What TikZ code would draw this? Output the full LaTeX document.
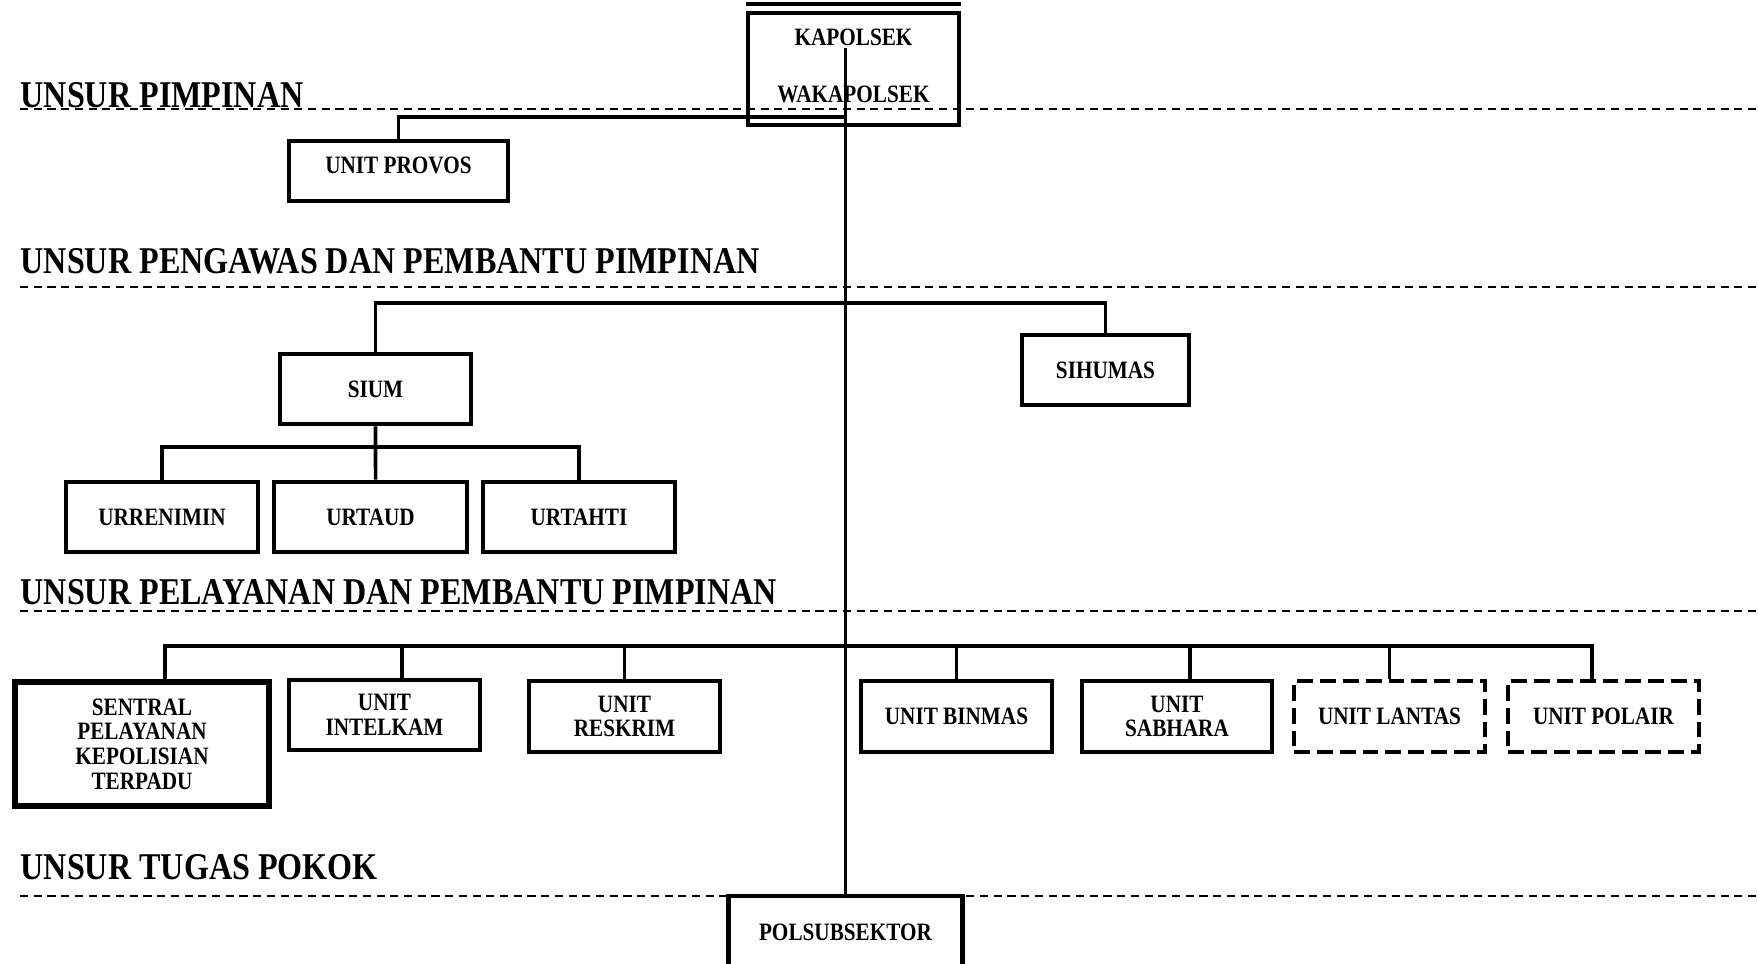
\documentclass[tikz,border=0pt]{standalone}
\usepackage{fontspec}
\setmainfont{Liberation Serif}
\newfontfamily\orgfont{Liberation Serif}[FakeStretch=0.85]

\begin{document}
\begin{tikzpicture}[x=0.01cm,y=-0.01cm,
  unit/.style={draw,line width=1.3pt,inner sep=0pt,align=center,
    font=\orgfont\bfseries\fontsize{7.1}{7}\selectfont},
  dunit/.style={unit,dash pattern=on 4.5pt off 2pt},
  level/.style={line width=0.45pt,dash pattern=on 2.3pt off 1.6pt},
  head/.style={anchor=base west,inner sep=0pt,
    font=\orgfont\bfseries\fontsize{10.75}{12}\selectfont},
  link/.style={line width=1pt}]
  \useasboundingbox (0,0) rectangle (1758,964);

  % levels
  \node[head] (pimpinan) at (20,107.6) {UNSUR PIMPINAN};
  \node[head] (pengawas) at (20,274) {UNSUR PENGAWAS DAN PEMBANTU PIMPINAN};
  \node[head] (pelayanan) at (20,604) {UNSUR PELAYANAN DAN PEMBANTU PIMPINAN};
  \node[head] (tugas) at (20,879) {UNSUR TUGAS POKOK};
  \draw[level] (20,109)--(1758,109);
  \draw[level] (20,287)--(1758,287);
  \draw[level] (20,611)--(1758,611);
  \draw[level] (20,896)--(1758,896);

  % units
  \node[unit,text depth=0.06cm,minimum width=2.11cm,minimum height=1.12cm] (kapolsek) at (853.5,69) {KAPOLSEK\\[9.2pt]WAKAPOLSEK};
  \draw[line width=1.2pt] ([yshift=0.065cm]kapolsek.north west) -- ([yshift=0.065cm]kapolsek.north east);
  \node[unit,text depth=0.12cm,minimum width=2.19cm,minimum height=0.6cm] (provos) at (398.5,171) {UNIT PROVOS};
  \node[unit,minimum width=1.91cm,minimum height=0.7cm] (sium) at (375.5,389) {SIUM};
  \node[unit,minimum width=1.67cm,minimum height=0.7cm] (sihumas) at (1105.5,370) {SIHUMAS};
  \node[unit,minimum width=1.92cm,minimum height=0.7cm] (urrenimin) at (162,517) {URRENIMIN};
  \node[unit,minimum width=1.93cm,minimum height=0.7cm] (urtaud) at (370.5,517) {URTAUD};
  \node[unit,minimum width=1.92cm,minimum height=0.7cm] (urtahti) at (579,517) {URTAHTI};
  \node[unit,line width=1.7pt,minimum width=2.54cm,minimum height=1.24cm] (sentral) at (142,744) {SENTRAL\\PELAYANAN\\KEPOLISIAN\\TERPADU};
  \node[unit,minimum width=1.91cm,minimum height=0.7cm] (intelkam) at (384.5,715) {UNIT\\INTELKAM};
  \node[unit,minimum width=1.91cm,minimum height=0.71cm] (reskrim) at (624.5,716.5) {UNIT\\RESKRIM};
  \node[unit,minimum width=1.91cm,minimum height=0.71cm] (binmas) at (956.5,716.5) {UNIT BINMAS};
  \node[unit,line width=1pt,minimum width=1.9cm,minimum height=0.71cm] (sabhara) at (1177,716.5) {UNIT\\SABHARA};
  \node[dunit,minimum width=1.91cm,minimum height=0.71cm] (lantas) at (1389.5,716.5) {UNIT LANTAS};
  \node[dunit,minimum width=1.91cm,minimum height=0.71cm] (polair) at (1603.5,716.5) {UNIT POLAIR};
  \node[unit,draw=none,anchor=north,minimum width=2.29cm,minimum height=0.68cm] (polsub) at (845.5,896) {POLSUBSEKTOR};
  \draw[line width=1.3pt] (polsub.south west) -- (polsub.north west) -- (polsub.north east) -- (polsub.south east);

  % lines
  \coordinate (top) at (845.5,48);
  \coordinate (j1) at (845.5,117);
  \coordinate (j2) at (845.5,303);
  \coordinate (j3) at (375.5,447);
  \coordinate (j4) at (845.5,646);
  \draw[link] (top) -- (polsub.north);
  \draw[link] (provos.north) |- (j1);
  \draw[link] (sium.north) |- (j2) -| (sihumas.north);
  \draw[link] (sium.south) -- (j3) -- ([xshift=0.05cm]urtaud.north);
  \draw[link] (urrenimin.north) |- (j3) -| (urtahti.north);
  \draw[link] ([xshift=0.23cm]sentral.north) |- (j4) -| ([xshift=-0.115cm]polair.north);
  \draw[link] ([xshift=0.175cm]intelkam.north) -- ([xshift=0.175cm]intelkam.north |- j4);
  \draw[link] (reskrim.north) -- (reskrim.north |- j4);
  \draw[link] (binmas.north) -- (binmas.north |- j4);
  \draw[link] ([xshift=0.13cm]sabhara.north) -- ([xshift=0.13cm]sabhara.north |- j4);
  \draw[link] (lantas.north) -- (lantas.north |- j4);
\end{tikzpicture}
\end{document}
